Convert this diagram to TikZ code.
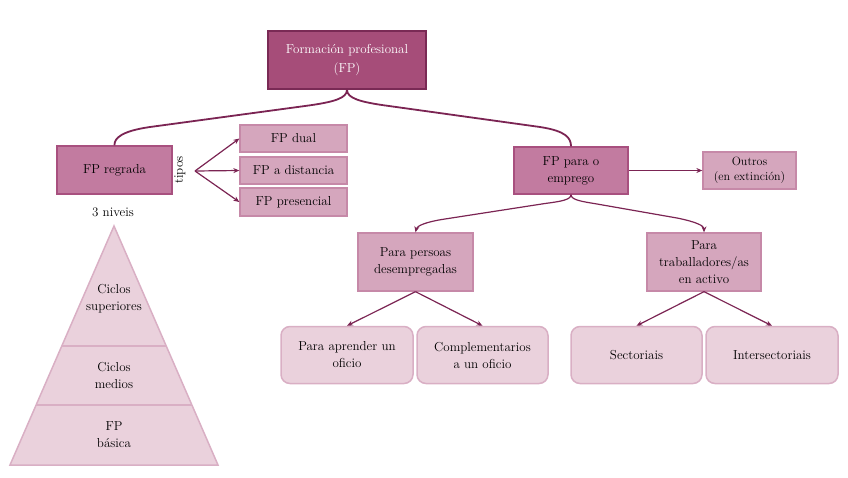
\documentclass[tikz,border=0pt]{standalone}
\usetikzlibrary{arrows.meta}
\definecolor{cdark}{HTML}{A64D79}
\definecolor{cdarkb}{HTML}{7A2A55}
\definecolor{cmed}{HTML}{C27BA0}
\definecolor{cmedb}{HTML}{A8507F}
\definecolor{clight}{HTML}{D5A6BD}
\definecolor{clightb}{HTML}{C689A8}
\definecolor{cpale}{HTML}{EAD1DC}
\definecolor{cpaleb}{HTML}{D9AFC4}
\definecolor{cline}{HTML}{7B2453}
\begin{document}
\begin{tikzpicture}[x=1pt,y=-1pt,
  every node/.style={font=\fontsize{13}{17}\selectfont, align=center, inner sep=0pt},
  topbox/.style={draw=cdarkb, fill=cdark, line width=1.5pt, text=white, minimum width=158pt, minimum height=58pt, font=\fontsize{13}{19}\selectfont},
  medbox/.style={draw=cmedb, fill=cmed, line width=1.3pt, minimum width=115pt, minimum height=48pt},
  lightbox/.style={draw=clightb, fill=clight, line width=1.3pt},
  palebox/.style={draw=cpaleb, fill=cpale, line width=1.5pt, rounded corners=9pt, minimum width=131pt, minimum height=57pt},
  conn/.style={draw=cline, line width=1.8pt},
  arr/.style={draw=cline, line width=1.2pt, -{Stealth[length=6pt,width=5pt]}}
]
\useasboundingbox (0,0) rectangle (848,477);

% nodes
\node[topbox] (top) at (347,60) {Formación profesional\\(FP)};
\node[medbox] (reg) at (114.5,170) {FP regrada};
\node[medbox, minimum width=114pt, minimum height=47pt] (emp) at (571,170.5) {FP para o\\emprego};
\node[lightbox, minimum width=107pt, minimum height=27pt] (dual) at (293.5,138.5) {FP dual};
\node[lightbox, minimum width=107pt, minimum height=27pt] (dist) at (293.5,170.5) {FP a distancia};
\node[lightbox, minimum width=107pt, minimum height=28pt] (pres) at (293.5,202) {FP presencial};
\node[lightbox, minimum width=93pt, minimum height=37pt, font=\fontsize{12}{15}\selectfont] (outros) at (749.5,170.5) {Outros\\(en extinción)};
\node[lightbox, minimum width=115pt, minimum height=58pt] (pers) at (415.5,262) {Para persoas\\desempregadas};
\node[lightbox, minimum width=114pt, minimum height=58pt] (trab) at (704,262) {Para\\traballadores/as\\en activo};
\node[palebox, minimum width=132pt] (apr) at (347,355) {Para aprender un\\oficio};
\node[palebox] (comp) at (482.5,355) {Complementarios\\a un oficio};
\node[palebox] (sect) at (636.5,355) {Sectoriais};
\node[palebox, minimum width=132pt] (inter) at (772,355) {Intersectoriais};

\node (niv) at (113,212) {3 niveis};
\node[rotate=90] (tipos) at (180,170) {tipos};
\coordinate (br) at (195,171);

% pyramid
\draw[draw=cpaleb, fill=cpale, line width=1.5pt] (114,226) -- (218,465) -- (10,465) -- cycle;
\draw[draw=cpaleb, line width=1.5pt] (62,346) -- (166,346);
\draw[draw=cpaleb, line width=1.5pt] (36,405) -- (192,405);
\node (sup) at (114,299) {Ciclos\\superiores};
\node (med) at (114,375) {Ciclos\\medios};
\node (bas) at (114,435) {FP\\básica};

% connectors
\draw[conn] (top.south) .. controls (347,98) and (335,102) .. (305,106) -- (150,127) .. controls (122,131) and (114,138) .. (reg.north);
\draw[conn] (top.south) .. controls (347,98) and (359,102) .. (389,106) -- (540,127) .. controls (566,131) and (571,138) .. (emp.north);

\draw[arr] (br) -- (dual.west);
\draw[arr] (br) -- (dist.west);
\draw[arr] (br) -- (pres.west);

\draw[arr] (emp.east) -- (outros.west);

\draw[arr] (emp.south) .. controls (571,200) and (560,201.5) .. (545,203.5) -- (445,219) .. controls (425,222) and (417,226) .. (pers.north);
\draw[arr] (emp.south) .. controls (571,200) and (582,201.5) .. (597,204) -- (677,218) .. controls (697,222) and (704,226) .. (trab.north);

\draw[arr] (pers.south) -- (apr.north);
\draw[arr] (pers.south) -- (comp.north);
\draw[arr] (trab.south) -- (sect.north);
\draw[arr] (trab.south) -- (inter.north);
\end{tikzpicture}
\end{document}
